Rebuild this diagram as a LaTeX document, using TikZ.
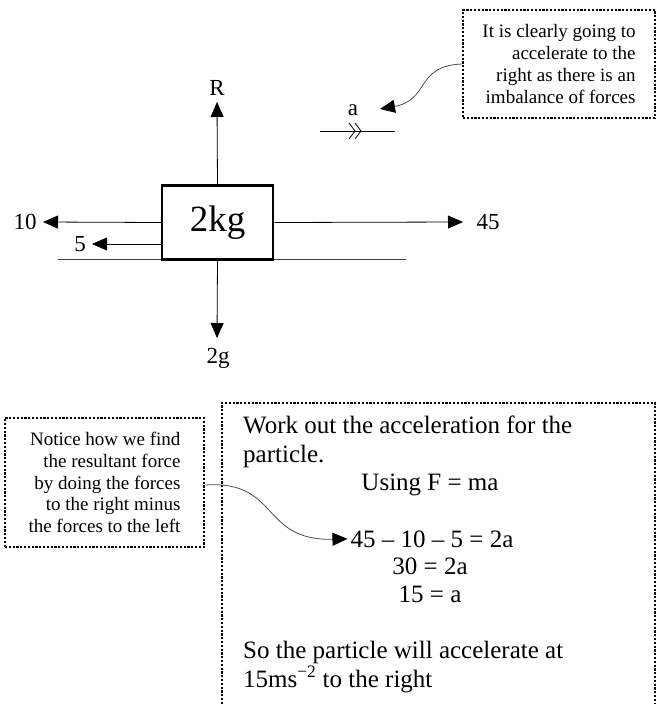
\documentclass[tikz,border=0pt]{standalone}
\usepackage{fontspec}
\setmainfont{Liberation Serif}
\usetikzlibrary{arrows.meta}
\usetikzlibrary{positioning}

\tikzset{
  force/.style={line width=0.8pt, -{Triangle[length=15pt,width=13pt]}},
  pointer/.style={line width=0.8pt, black!70, shorten >=3pt, -{Triangle[length=15pt,width=13pt,color=black]}},
  forcelabel/.style={inner sep=0pt, font=\fontsize{23}{26}\selectfont},
  notebox/.style={draw, line width=2.5pt, dash pattern=on 2.2pt off 1.6pt, align=right,
    inner xsep=10pt, font=\fontsize{19}{21.8}\selectfont},
  worktext/.style={inner sep=0pt, font=\fontsize{25}{28}\selectfont}
}

\begin{document}
\begin{tikzpicture}[x=1pt,y=-1pt]
\useasboundingbox (0,0) rectangle (661,704);

% the particle and its forces
\draw[line width=0.8pt, black!75] (58,259) -- (406,259);
\node[draw, line width=2.5pt, fill=white, minimum width=111pt, minimum height=74pt,
  font=\fontsize{37}{42}\selectfont] (mass) at (217.5,222.5) {2kg};

\coordinate (tipR) at (217,102);
\coordinate (tip10) at (43,222);
\coordinate (tip5) at (92,244);
\coordinate (tip45) at (463,222);
\coordinate (tip2g) at (217,338);

\draw[force] (mass.north) -- (tipR);
\draw[force] (mass.west) -- (tip10);
\draw[force] (mass.west |- tip5) -- (tip5);
\draw[force] (mass.east) -- (tip45);
\draw[force] (mass.south) -- (tip2g);

\node[forcelabel] (labR) at (217,88) {R};
\node[forcelabel] (lab10) at (25,222) {10};
\node[forcelabel] (lab5) at (80,244) {5};
\node[forcelabel] (lab45) at (488,222) {45};
\node[forcelabel] (lab2g) at (218,358) {2g};

% acceleration
\coordinate (acc1) at (320,131);
\coordinate (acc2) at (395,131);
\draw[line width=0.8pt] (acc1) -- (acc2);
\draw[line width=0.8pt] (349,123) -- (355,131) -- (349,139);
\draw[line width=0.8pt] (355,123) -- (361,131) -- (355,139);
\node[forcelabel] (laba) at (353,110) {a};

\node[notebox, minimum width=192pt, minimum height=108pt] (topnote) at (559,64)
  {It is clearly going to\\ accelerate to the\\ right as there is an\\ imbalance of forces};
\coordinate (atip) at (380,109);
\draw[pointer, shorten >=0pt] (topnote.west) .. controls (415,66) and (430,100) .. (atip);

% working
\draw[line width=2.5pt, dash pattern=on 2.2pt off 1.6pt] (222,704) -- (222,403) -- (655,403) -- (655,704);
\node[worktext, anchor=base west] (head1) at (243,433) {Work out the acceleration for the};
\node[worktext, anchor=base west] (head2) at (243,462) {particle.};
\node[worktext, anchor=base] (law) at (430,490) {Using F = ma};
\node[worktext, anchor=base] (eqa) at (432,547) {45 – 10 – 5 = 2a};
\node[worktext, anchor=base] (eqb) at (430,574) {30 = 2a};
\node[worktext, anchor=base] (eqc) at (430,602) {15 = a};
\node[worktext, anchor=base west] (ans1) at (243,658) {So the particle will accelerate at};
\node[worktext, anchor=base west] (ans2) at (243,687) {15ms\textsuperscript{−2} to the right};

\node[notebox, minimum width=199pt, minimum height=129pt] (leftnote) at (104.5,482.5)
  {Notice how we find\\ the resultant force\\ by doing the forces\\ to the right minus\\ the forces to the left};
\draw[pointer] (leftnote.east |- 0,485) .. controls (280,480) and (260,541) .. (eqa.west);
\end{tikzpicture}
\end{document}
